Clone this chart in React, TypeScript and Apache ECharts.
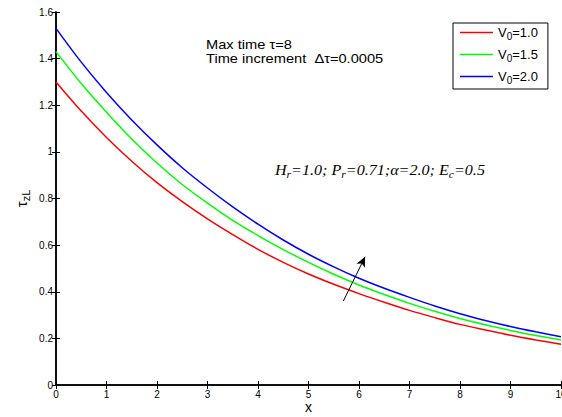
import React, { useEffect, useRef } from "react";
import * as echarts from "echarts";

const xValues = [0, 0.5, 1, 1.5, 2, 2.5, 3, 3.5, 4, 4.5, 5, 5.5, 6, 6.5, 7, 7.5, 8, 8.5, 9, 9.5, 10];
const redV10 = [1.300, 1.175, 1.062, 0.960, 0.868, 0.787, 0.713, 0.645, 0.582, 0.526, 0.476, 0.432, 0.392, 0.355, 0.320, 0.289, 0.260, 0.236, 0.213, 0.193, 0.175];
const greenV15 = [1.430, 1.293, 1.170, 1.055, 0.952, 0.860, 0.780, 0.706, 0.641, 0.581, 0.526, 0.475, 0.429, 0.388, 0.350, 0.316, 0.285, 0.258, 0.234, 0.212, 0.193];
const blueV20 = [1.530, 1.385, 1.255, 1.137, 1.030, 0.932, 0.845, 0.764, 0.690, 0.622, 0.561, 0.507, 0.458, 0.415, 0.376, 0.339, 0.306, 0.277, 0.251, 0.228, 0.207];
const seriesNames = ["V0=1.0", "V0=1.5", "V0=2.0"];
const seriesColors = ["#ff0000", "#00ff00", "#0000ff"];
const xTicks = { min: 0, max: 10, interval: 1 };
const yTicks = { min: 0, max: 1.6, interval: 0.2 };
const arrowStart = [5.69, 0.36];
const arrowEnd = [6.12, 0.55];

export default function App() {
  const ref = useRef<HTMLDivElement>(null);
  useEffect(() => {
    if (!ref.current) return;
    const chart = echarts.init(ref.current, null, { renderer: "svg" });
    const all = [redV10, greenV15, blueV20];
    const font = "Liberation Sans";
    const axisLine = { show: true, lineStyle: { color: "#000", width: 1.5 } };
    const tick = { show: true, inside: true, length: 4, lineStyle: { color: "#000", width: 1 } };
    const series: any[] = all.map((vals, i) => ({
      name: seriesNames[i],
      type: "line",
      data: xValues.map((x, j) => [x, vals[j]]),
      symbol: "none",
      smooth: 0.3,
      lineStyle: { color: seriesColors[i], width: 1.5 },
      itemStyle: { color: seriesColors[i] },
    }));
    series[2].markLine = {
      silent: true,
      symbol: ["none", "arrow"],
      symbolSize: [7, 10],
      label: { show: false },
      lineStyle: { color: "#000", width: 1, type: "solid" },
      data: [[{ coord: arrowStart }, { coord: arrowEnd }]],
    };
    chart.setOption({
      animation: false,
      backgroundColor: "#fff",
      grid: { left: 56, right: 1, top: 12, bottom: 32, containLabel: false, outerBoundsMode: "none" },
      xAxis: [
        {
          type: "value", ...xTicks, position: "bottom",
          name: "x", nameLocation: "middle", nameGap: 22, nameMoveOverlap: false,
          nameTextStyle: { fontFamily: font, fontSize: 14, color: "#000", verticalAlign: "middle", lineHeight: 14 },
          axisLine, axisTick: tick, splitLine: { show: false },
          axisLabel: { fontFamily: font, fontSize: 10, color: "#000", margin: 4 },
        },
        {
          type: "value", ...xTicks, position: "top",
          axisLine, axisTick: tick, splitLine: { show: false }, axisLabel: { show: false },
        },
      ],
      yAxis: [
        {
          type: "value", ...yTicks, position: "left",
          name: "{t|τ}{s|zL}", nameLocation: "middle", nameGap: 25, nameRotate: 90, nameMoveOverlap: false,
          nameTextStyle: {
            fontFamily: font, color: "#000",
            rich: {
              t: { fontFamily: font, fontSize: 15, color: "#000" },
              s: { fontFamily: font, fontSize: 11, color: "#000", padding: [8, 0, 0, 0] },
            },
          },
          axisLine, axisTick: tick, splitLine: { show: false },
          axisLabel: {
            fontFamily: font, fontSize: 10, color: "#000", margin: 3,
            formatter: (v: number) => String(Math.round(v * 10) / 10),
          },
        },
        {
          type: "value", ...yTicks, position: "right",
          axisLine, axisTick: tick, splitLine: { show: false }, axisLabel: { show: false },
        },
      ],
      legend: {
        orient: "vertical",
        left: 453,
        top: 23,
        padding: [3, 10, 4, 7],
        itemGap: 7,
        itemWidth: 33,
        itemHeight: 1.5,
        icon: "rect",
        borderColor: "#000",
        borderWidth: 1,
        backgroundColor: "#fff",
        data: seriesNames.map((n) => ({ name: n })),
        formatter: (name: string) => {
          const rest = name.slice(2);
          return `{a|V}{s|0}{a|${rest}}`;
        },
        textStyle: {
          fontFamily: font, color: "#000",
          rich: {
            a: { fontFamily: font, fontSize: 13, color: "#000" },
            s: { fontFamily: font, fontSize: 10, color: "#000", padding: [7, 0, 0, 0] },
          },
        },
      },
      graphic: [
        {
          type: "text", left: 206, top: 39, scaleX: 1.22,
          style: { text: "Max time τ=8", fontFamily: font, fontSize: 12, fill: "#000" },
        },
        {
          type: "text", left: 206, top: 53, scaleX: 1.22,
          style: { text: "Time increment  Δτ=0.0005", fontFamily: font, fontSize: 12, fill: "#000" },
        },
        {
          type: "text", left: 275, top: 163, scaleX: 1.15,
          style: {
            text: "{i|H}{s|r}{i|=1.0; P}{s|r}{i|=0.71;α=2.0; E}{s|c}{i|=0.5}",
            rich: {
              i: { fontFamily: "Liberation Serif", fontStyle: "italic", fontSize: 14, fill: "#000" },
              s: { fontFamily: "Liberation Serif", fontStyle: "italic", fontSize: 10, fill: "#000", padding: [8, 0, 0, 0] },
            },
          },
        },
      ],
      series,
    });
    return () => chart.dispose();
  }, []);
  return (
    <div
      ref={ref}
      style={{ position: "fixed", left: 0, top: 0, width: 562, height: 417 }}
    />
  );
}
